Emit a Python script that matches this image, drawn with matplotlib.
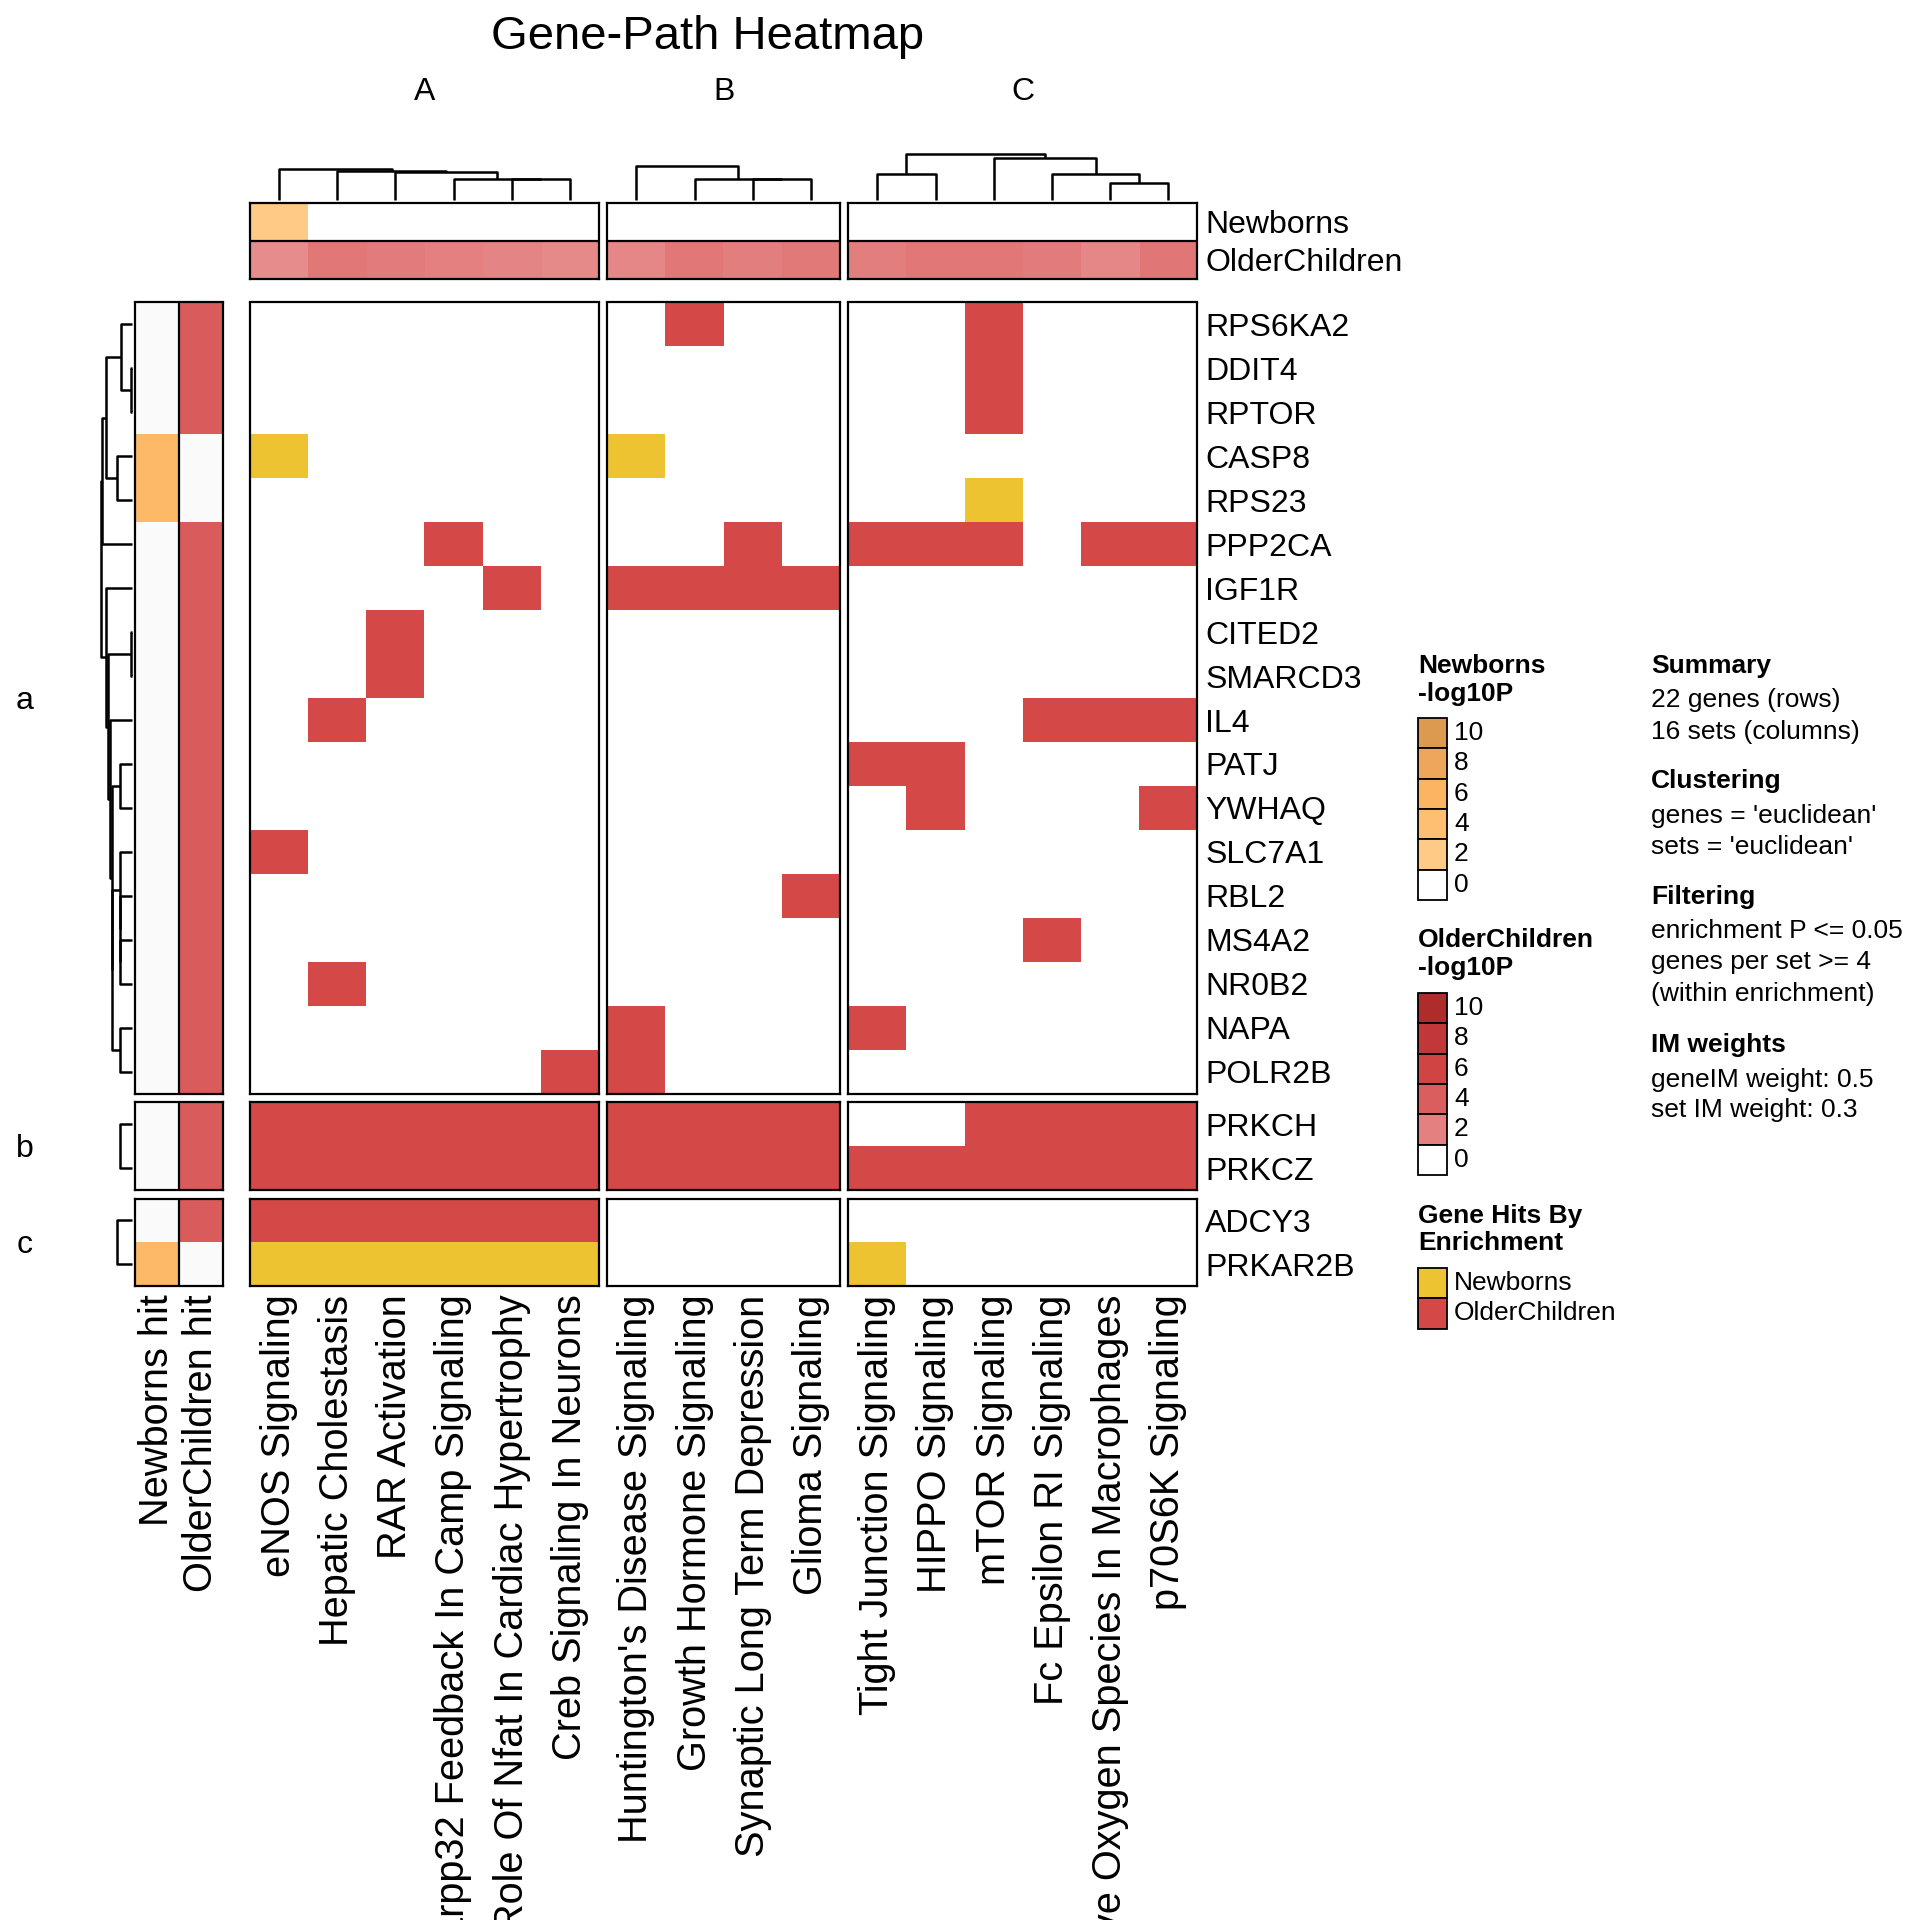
import numpy as np
import matplotlib
matplotlib.use("Agg")
import matplotlib.pyplot as plt
from matplotlib.colors import ListedColormap, LinearSegmentedColormap, Normalize
from matplotlib.patches import Rectangle

plt.rcParams['font.family'] = ['Liberation Sans', 'DejaVu Sans']

# ---------------- data ----------------
title = "Gene-Path Heatmap"
col_slice_names = ["A", "B", "C"]
sets_A = ["eNOS Signaling", "Hepatic Cholestasis", "RAR Activation",
          "Dopamine-Darpp32 Feedback In Camp Signaling",
          "Role Of Nfat In Cardiac Hypertrophy", "Creb Signaling In Neurons"]
sets_B = ["Huntington's Disease Signaling", "Growth Hormone Signaling",
          "Synaptic Long Term Depression", "Glioma Signaling"]
sets_C = ["Tight Junction Signaling", "HIPPO Signaling", "mTOR Signaling",
          "Fc Epsilon RI Signaling",
          "Production Of Nitric Oxide And Reactive Oxygen Species In Macrophages",
          "p70S6K Signaling"]
col_slices = [sets_A, sets_B, sets_C]

row_slice_names = ["a", "b", "c"]
genes_a = ["RPS6KA2", "DDIT4", "RPTOR", "CASP8", "RPS23", "PPP2CA", "IGF1R",
           "CITED2", "SMARCD3", "IL4", "PATJ", "YWHAQ", "SLC7A1", "RBL2",
           "MS4A2", "NR0B2", "NAPA", "POLR2B"]
genes_b = ["PRKCH", "PRKCZ"]
genes_c = ["ADCY3", "PRKAR2B"]
row_slices = [genes_a, genes_b, genes_c]

# 0 = no hit, 1 = Newborns, 2 = OlderChildren ; columns A(6) | B(4) | C(6)
hits = {
    "RPS6KA2": [0, 0, 0, 0, 0, 0, 0, 2, 0, 0, 0, 0, 2, 0, 0, 0],
    "DDIT4":   [0, 0, 0, 0, 0, 0, 0, 0, 0, 0, 0, 0, 2, 0, 0, 0],
    "RPTOR":   [0, 0, 0, 0, 0, 0, 0, 0, 0, 0, 0, 0, 2, 0, 0, 0],
    "CASP8":   [1, 0, 0, 0, 0, 0, 1, 0, 0, 0, 0, 0, 0, 0, 0, 0],
    "RPS23":   [0, 0, 0, 0, 0, 0, 0, 0, 0, 0, 0, 0, 1, 0, 0, 0],
    "PPP2CA":  [0, 0, 0, 2, 0, 0, 0, 0, 2, 0, 2, 2, 2, 0, 2, 2],
    "IGF1R":   [0, 0, 0, 0, 2, 0, 2, 2, 2, 2, 0, 0, 0, 0, 0, 0],
    "CITED2":  [0, 0, 2, 0, 0, 0, 0, 0, 0, 0, 0, 0, 0, 0, 0, 0],
    "SMARCD3": [0, 0, 2, 0, 0, 0, 0, 0, 0, 0, 0, 0, 0, 0, 0, 0],
    "IL4":     [0, 2, 0, 0, 0, 0, 0, 0, 0, 0, 0, 0, 0, 2, 2, 2],
    "PATJ":    [0, 0, 0, 0, 0, 0, 0, 0, 0, 0, 2, 2, 0, 0, 0, 0],
    "YWHAQ":   [0, 0, 0, 0, 0, 0, 0, 0, 0, 0, 0, 2, 0, 0, 0, 2],
    "SLC7A1":  [2, 0, 0, 0, 0, 0, 0, 0, 0, 0, 0, 0, 0, 0, 0, 0],
    "RBL2":    [0, 0, 0, 0, 0, 0, 0, 0, 0, 2, 0, 0, 0, 0, 0, 0],
    "MS4A2":   [0, 0, 0, 0, 0, 0, 0, 0, 0, 0, 0, 0, 0, 2, 0, 0],
    "NR0B2":   [0, 2, 0, 0, 0, 0, 0, 0, 0, 0, 0, 0, 0, 0, 0, 0],
    "NAPA":    [0, 0, 0, 0, 0, 0, 2, 0, 0, 0, 2, 0, 0, 0, 0, 0],
    "POLR2B":  [0, 0, 0, 0, 0, 2, 2, 0, 0, 0, 0, 0, 0, 0, 0, 0],
    "PRKCH":   [2, 2, 2, 2, 2, 2, 2, 2, 2, 2, 0, 0, 2, 2, 2, 2],
    "PRKCZ":   [2, 2, 2, 2, 2, 2, 2, 2, 2, 2, 2, 2, 2, 2, 2, 2],
    "ADCY3":   [2, 2, 2, 2, 2, 2, 0, 0, 0, 0, 0, 0, 0, 0, 0, 0],
    "PRKAR2B": [1, 1, 1, 1, 1, 1, 0, 0, 0, 0, 1, 0, 0, 0, 0, 0],
}

# column annotation (-log10P per set)
set_newborns_logp = [2.0, 0, 0, 0, 0, 0, 0, 0, 0, 0, 0, 0, 0, 0, 0, 0]
set_older_logp = [1.8, 2.5, 2.3, 2.0, 1.95, 1.85, 1.9, 2.5, 2.1, 2.4,
                  2.1, 2.5, 2.5, 2.3, 1.9, 2.6]

# row annotation (-log10P of the gene hit, 0 = no hit)
gene_newborns_hit = {"CASP8": 5.0, "RPS23": 5.0, "PRKAR2B": 5.0}
gene_older_hit_value = 4.2
gene_older_nohit = ["CASP8", "RPS23", "PRKAR2B"]

# dendrogram merges (left, right, height) ; ids >= n are earlier merges
top_dendro = [
    [(4, 5, 20.7), (3, 6, 20.7), (2, 7, 28.0), (1, 8, 29.0), (0, 9, 31.0)],
    [(2, 3, 20.7), (1, 4, 20.7), (0, 5, 33.7)],
    [(0, 1, 26.0), (4, 5, 16.7), (3, 7, 25.7), (2, 8, 42.0), (6, 9, 46.0)],
]
left_dendro = [
    [(1, 2, 0.7), (0, 18, 11.3), (3, 4, 15.0), (19, 20, 25.7), (21, 5, 30.3),
     (7, 8, 0.7), (14, 15, 12.3), (13, 24, 12.3), (12, 25, 12.3),
     (16, 17, 12.3), (10, 11, 12.3), (26, 27, 20.0), (28, 29, 20.0),
     (9, 30, 21.7), (23, 31, 24.0), (6, 32, 25.7), (22, 33, 30.7)],
    [(0, 1, 12.4)],
    [(0, 1, 15.0)],
]

legend_breaks = [10, 8, 6, 4, 2, 0]
newborns_colors = ["#FFFFFF", "#FECA86", "#FEBF70", "#FCB462", "#EEA75A", "#DC9A50"]
older_colors = ["#FFFFFF", "#E48080", "#DA5E5E", "#D04444", "#C03838", "#AE2C2C"]
hit_names = ["Newborns", "OlderChildren"]
hit_colors = ["#EEC331", "#D44848"]
nohit_color = "#FAFAFA"

summary_lines = [
    ("Summary", True), ("22 genes (rows)", False), ("16 sets (columns)", False),
    ("Clustering", True), ("genes = 'euclidean'", False), ("sets = 'euclidean'", False),
    ("Filtering", True), ("enrichment P <= 0.05", False), ("genes per set >= 4", False),
    ("(within enrichment)", False),
    ("IM weights", True), ("geneIM weight: 0.5", False), ("set IM weight: 0.3", False),
]

# ---------------- styling / layout ----------------
W = H = 1920
fig = plt.figure(figsize=(19.2, 19.2), dpi=100)
LW = 1.6
FS = 23        # row names / split titles
CFS = 28.6     # column names
LFS = 19       # legends

def add_ax(x0, y0, x1, y1):
    return fig.add_axes([x0 / W, 1 - y1 / H, (x1 - x0) / W, (y1 - y0) / H])

def clean(ax):
    ax.set_xticks([]); ax.set_yticks([])
    for s in ax.spines.values():
        s.set_linewidth(LW); s.set_color("black")

nb_cmap = LinearSegmentedColormap.from_list("nb", list(zip(np.linspace(0, 1, 6), newborns_colors)))
oc_cmap = LinearSegmentedColormap.from_list("oc", list(zip(np.linspace(0, 1, 6), older_colors)))
lnorm = Normalize(0, 10)
hit_cmap = ListedColormap(["#FFFFFF"] + hit_colors)

cw, cgap = 58.2, 8.2
rh, rgap = 43.95, 8.5
hx0 = 249.8
hy0 = 302.5

col_x = []
x = hx0
for s in col_slices:
    col_x.append((x, x + cw * len(s)))
    x += cw * len(s) + cgap
row_y = []
y = hy0
for g in row_slices:
    row_y.append((y, y + rh * len(g)))
    y += rh * len(g) + rgap

col_offsets = np.cumsum([0] + [len(s) for s in col_slices])

def draw_dendro(ax, merges, n, orient):
    pos = {i: i + 0.5 for i in range(n)}
    hgt = {i: 0.0 for i in range(n)}
    for k, (a, b, h) in enumerate(merges):
        xs = [pos[a], pos[a], pos[b], pos[b]]
        ys = [hgt[a], h, h, hgt[b]]
        if orient == "top":
            ax.plot(xs, ys, color="black", lw=1.8, clip_on=False, solid_capstyle="butt")
        else:
            ax.plot(ys, xs, color="black", lw=1.8, clip_on=False, solid_capstyle="butt")
        pos[n + k] = (pos[a] + pos[b]) / 2
        hgt[n + k] = h
    ax.axis("off")

# ----- main heatmap + row annotation + left dendrogram -----
for ri, genes in enumerate(row_slices):
    y0, y1 = row_y[ri]
    mat = np.array([hits[g] for g in genes])
    for ci, sets in enumerate(col_slices):
        x0, x1 = col_x[ci]
        ax = add_ax(x0, y0, x1, y1)
        sub = mat[:, col_offsets[ci]:col_offsets[ci + 1]]
        ax.pcolormesh(sub, cmap=hit_cmap, vmin=0, vmax=2)
        ax.set_xlim(0, len(sets)); ax.set_ylim(len(genes), 0)
        clean(ax)
        if ci == len(col_slices) - 1:
            ax.yaxis.tick_right()
            ax.set_yticks(np.arange(len(genes)) + 0.5)
            ax.set_yticklabels(genes, fontsize=FS)
            ax.tick_params(axis="y", length=0, pad=5.5)
        if ri == len(row_slices) - 1:
            ax.set_xticks(np.arange(len(sets)) + 0.5)
            ax.set_xticklabels(sets, rotation=90, fontsize=CFS, va="top", ha="center")
            ax.tick_params(axis="x", length=0, pad=6)

    # row annotation (two columns)
    nb = np.array([gene_newborns_hit.get(g, 0.0) for g in genes])
    oc = np.array([0.0 if g in gene_older_nohit else gene_older_hit_value for g in genes])
    rgba = np.zeros((len(genes), 2, 4))
    rgba[:, 0] = nb_cmap(lnorm(nb))
    rgba[:, 1] = oc_cmap(lnorm(oc))
    rgba[nb == 0, 0] = matplotlib.colors.to_rgba(nohit_color)
    rgba[oc == 0, 1] = matplotlib.colors.to_rgba(nohit_color)
    axr = add_ax(134.6, y0, 223.5, y1)
    axr.imshow(rgba, aspect="auto", interpolation="nearest", extent=(0, 2, len(genes), 0))
    axr.set_xlim(0, 2); axr.set_ylim(len(genes), 0)
    clean(axr)
    axr.axvline(1, color="black", lw=LW)
    if ri == len(row_slices) - 1:
        axr.set_xticks([0.5, 1.5])
        axr.set_xticklabels(["Newborns hit", "OlderChildren hit"], rotation=90,
                            fontsize=CFS, va="top", ha="center")
        axr.tick_params(axis="x", length=0, pad=6)

    # left dendrogram
    axd = add_ax(101, y0, 132, y1)
    draw_dendro(axd, left_dendro[ri], len(genes), "left")
    axd.set_xlim(31, 0); axd.set_ylim(len(genes), 0)

    fig.text(24.5 / W, 1 - ((y0 + y1) / 2 + 3) / H, row_slice_names[ri], fontsize=FS,
             ha="center", va="center")

# ----- column annotation + top dendrogram -----
for ci, sets in enumerate(col_slices):
    x0, x1 = col_x[ci]
    s0, s1 = col_offsets[ci], col_offsets[ci + 1]
    rgba = np.zeros((2, len(sets), 4))
    rgba[0] = nb_cmap(lnorm(np.array(set_newborns_logp[s0:s1])))
    rgba[1] = oc_cmap(lnorm(np.array(set_older_logp[s0:s1])))
    axc = add_ax(x0, 202.7, x1, 278.7)
    axc.imshow(rgba, aspect="auto", interpolation="nearest", extent=(0, len(sets), 2, 0))
    axc.set_xlim(0, len(sets)); axc.set_ylim(2, 0)
    clean(axc)
    axc.axhline(1, color="black", lw=LW)
    if ci == len(col_slices) - 1:
        axc.yaxis.tick_right()
        axc.set_yticks([0.5, 1.5])
        axc.set_yticklabels(["Newborns", "OlderChildren"], fontsize=FS)
        axc.tick_params(axis="y", length=0, pad=5.5)

    axt = add_ax(x0, 154, x1, 200)
    draw_dendro(axt, top_dendro[ci], len(sets), "top")
    axt.set_xlim(0, len(sets)); axt.set_ylim(0, 46)

    fig.text((x0 + x1) / 2 / W, 1 - 92 / H, col_slice_names[ci], fontsize=FS,
             ha="center", va="center")

fig.text(708 / W, 1 - 37 / H, title, fontsize=34, ha="center", va="center")

# ----- legends -----
ov = fig.add_axes([0, 0, 1, 1], zorder=-1)
ov.set_xlim(0, W); ov.set_ylim(H, 0); ov.axis("off")
lx0, lbw, lbh = 1418, 29, 30.3

def color_legend(title_lines, ty, by, cmap):
    for i, t in enumerate(title_lines):
        ov.text(lx0, ty + i * 28, t, fontsize=LFS, fontweight="bold", ha="left", va="center")
    for i, v in enumerate(legend_breaks):
        ov.add_patch(Rectangle((lx0, by + i * lbh), lbw, lbh, facecolor=cmap(lnorm(v)),
                               edgecolor="black", lw=1.3))
        ov.text(lx0 + lbw + 7, by + (i + 0.5) * lbh, str(v), fontsize=LFS, ha="left", va="center")

color_legend(["Newborns", "-log10P"], 666, 718, nb_cmap)
color_legend(["OlderChildren", "-log10P"], 940, 993, oc_cmap)
for i, t in enumerate(["Gene Hits By", "Enrichment"]):
    ov.text(lx0, 1215.5 + i * 28, t, fontsize=LFS, fontweight="bold", ha="left", va="center")
for i, (nm, c) in enumerate(zip(hit_names, hit_colors)):
    ov.add_patch(Rectangle((lx0, 1268 + i * lbh), lbw, lbh, facecolor=c, edgecolor="black", lw=1.3))
    ov.text(lx0 + lbw + 7, 1268 + (i + 0.5) * lbh, nm, fontsize=LFS, ha="left", va="center")

sy = [665.7, 700, 731.8, 780.8, 816.3, 846.9, 897.1, 931.4, 962, 993.8, 1045.3, 1079.6, 1110.2]
for (t, b), yy in zip(summary_lines, sy):
    ov.text(1651, yy, t, fontsize=LFS, fontweight="bold" if b else "normal", ha="left", va="center")

fig.savefig("out.png", dpi=100)
